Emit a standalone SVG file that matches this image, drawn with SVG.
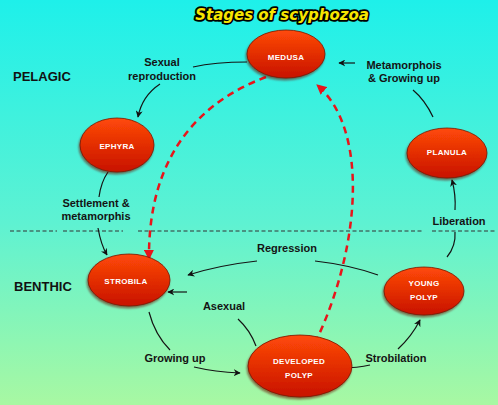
<svg xmlns="http://www.w3.org/2000/svg" width="498" height="405" viewBox="0 0 498 405">
<defs>
<linearGradient id="bg" x1="0" y1="0" x2="0" y2="1">
<stop offset="0" stop-color="#1ef0ea"/>
<stop offset="0.55" stop-color="#5ef2d2"/>
<stop offset="1" stop-color="#a8f8a2"/>
</linearGradient>
<linearGradient id="nodeFill" x1="0" y1="0" x2="0" y2="1">
<stop offset="0" stop-color="#ff4a08"/>
<stop offset="1" stop-color="#c81200"/>
</linearGradient>
<filter id="shadow" x="-20%" y="-20%" width="140%" height="150%">
<feDropShadow dx="-1" dy="2" stdDeviation="1" flood-color="#6a0a00" flood-opacity="0.6"/>
</filter>
<marker id="arrow" viewBox="0 0 10 10" refX="9" refY="5" markerWidth="7" markerHeight="7" orient="auto" markerUnits="userSpaceOnUse">
<path d="M0,0 L10,5 L0,10 L3,5 Z" fill="#111"/>
</marker>
<marker id="redArrow" viewBox="0 0 10 10" refX="9" refY="5" markerWidth="10" markerHeight="10" orient="auto" markerUnits="userSpaceOnUse">
<path d="M0,0 L10,5 L0,10 Z" fill="#e8141a"/>
</marker>
<style>
.node ellipse{fill:url(#nodeFill);stroke:#7a1400;stroke-width:0.8;filter:url(#shadow);}
.nlabel{font-family:"Liberation Sans","DejaVu Sans",sans-serif;font-weight:bold;font-size:8px;fill:#fff;text-anchor:middle;letter-spacing:0.3px;}
.label{font-family:"Liberation Sans","DejaVu Sans",sans-serif;font-weight:bold;font-size:11px;fill:#141414;text-anchor:middle;}
.zone{font-family:"Liberation Sans","DejaVu Sans",sans-serif;font-weight:bold;font-size:13px;fill:#111;}
.conn{fill:none;stroke:#141414;stroke-width:1.2;}
.red{fill:none;stroke:#e8141a;stroke-width:2.5;stroke-dasharray:7 5;}
.divider{fill:none;stroke:#333;stroke-width:1;stroke-dasharray:4 2.5;}
.title{font-family:"DejaVu Sans","Liberation Sans",sans-serif;font-weight:bold;font-style:italic;font-size:15px;fill:#f7e600;stroke:#000;stroke-width:3.5;paint-order:stroke;stroke-linejoin:round;text-anchor:middle;}
</style>
</defs>
<rect width="498" height="405" fill="url(#bg)"/>

<text class="title" x="282" y="20">Stages of scyphozoa</text>

<g id="divider">
<path class="divider" d="M10,231 H57 M63,231 H123 M138,231 H423 M432,231 H495"/>
</g>

<text class="zone" x="13" y="81">PELAGIC</text>
<text class="zone" x="14" y="291">BENTHIC</text>

<g id="connectors">
<!-- Medusa -> Ephyra -->
<path class="conn" d="M247,62 Q215,62 193,67"/>
<path class="conn" d="M160,84 Q142,96 138,117" marker-end="url(#arrow)"/>
<!-- Ephyra -> Strobila -->
<path class="conn" d="M108,172 Q101,182 99,197"/>
<path class="conn" d="M98,228 Q101,245 107,255" marker-end="url(#arrow)"/>
<!-- Planula -> Medusa -->
<path class="conn" d="M433,117 Q425,100 413,90"/>
<path class="conn" d="M355,63 H339" marker-end="url(#arrow)"/>
<!-- Young polyp -> Planula -->
<path class="conn" d="M447,257 Q456,246 455,232"/>
<path class="conn" d="M455,210 Q456,195 452,180" marker-end="url(#arrow)"/>
<!-- Young polyp -> Strobila (Regression) -->
<path class="conn" d="M378,275 Q350,265 315,261"/>
<path class="conn" d="M257,261 Q220,265 188,275" marker-end="url(#arrow)"/>
<!-- Developed -> Strobila (Asexual) -->
<path class="conn" d="M256,346 Q250,330 238,319"/>
<path class="conn" d="M187,292 H168" marker-end="url(#arrow)"/>
<!-- Strobila -> Developed (Growing up) -->
<path class="conn" d="M149,312 Q155,335 170,350"/>
<path class="conn" d="M194,367 Q215,372 240,373" marker-end="url(#arrow)"/>
<!-- Developed -> Young (Strobilation) -->
<path class="conn" d="M340,368 Q358,368 370,365"/>
<path class="conn" d="M398,349 Q412,336 420,320" marker-end="url(#arrow)"/>
<!-- Red dashed -->
<path class="red" d="M266,77 C205,100 148,150 149,259" marker-end="url(#redArrow)"/>
<path class="red" d="M315,343 C360,250 370,130 317,85" marker-end="url(#redArrow)"/>
</g>

<g id="labels">
<text class="label" x="162" y="66">Sexual</text>
<text class="label" x="162" y="80">reproduction</text>
<text class="label" x="404" y="69">Metamorphois</text>
<text class="label" x="404" y="82">&amp; Growing up</text>
<text class="label" x="96" y="207">Settlement &amp;</text>
<text class="label" x="96" y="220">metamorphis</text>
<text class="label" x="459" y="225">Liberation</text>
<text class="label" x="287" y="252">Regression</text>
<text class="label" x="224" y="310">Asexual</text>
<text class="label" x="175" y="362">Growing up</text>
<text class="label" x="396" y="362">Strobilation</text>
</g>

<g id="medusa" class="node">
<ellipse cx="286" cy="54" rx="39" ry="24"/>
<text class="nlabel" x="286" y="60">MEDUSA</text>
</g>
<g id="ephyra" class="node">
<ellipse cx="117" cy="145" rx="37" ry="27"/>
<text class="nlabel" x="117" y="149">EPHYRA</text>
</g>
<g id="planula" class="node">
<ellipse cx="447" cy="153" rx="40" ry="25"/>
<text class="nlabel" x="447" y="155">PLANULA</text>
</g>
<g id="strobila" class="node">
<ellipse cx="129" cy="280" rx="41" ry="26"/>
<text class="nlabel" x="126" y="284">STROBILA</text>
</g>
<g id="young-polyp" class="node">
<ellipse cx="424" cy="291" rx="40" ry="24"/>
<text class="nlabel" x="424" y="286">YOUNG</text>
<text class="nlabel" x="424" y="300">POLYP</text>
</g>
<g id="developed-polyp" class="node">
<ellipse cx="300" cy="366" rx="52" ry="31"/>
<text class="nlabel" x="299" y="364">DEVELOPED</text>
<text class="nlabel" x="299" y="378">POLYP</text>
</g>
</svg>
